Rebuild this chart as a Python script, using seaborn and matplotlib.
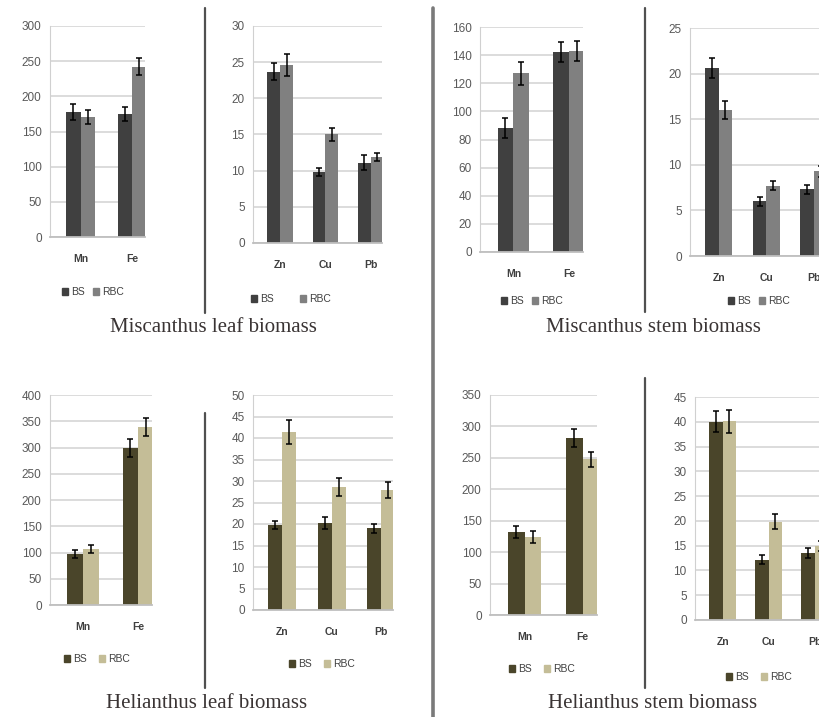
import numpy as np
import pandas as pd
import matplotlib
matplotlib.use("Agg")
import matplotlib.pyplot as plt
import seaborn as sns
from matplotlib.lines import Line2D
from matplotlib.patches import Patch

# ---- data (mg/kg) ----
macro = ["Mn", "Fe"]
micro = ["Zn", "Cu", "Pb"]
treatments = ["BS", "RBC"]

mis_leaf_macro_bs = [178, 175]
mis_leaf_macro_rbc = [171, 242]
mis_leaf_macro_bs_err = [11, 10]
mis_leaf_macro_rbc_err = [10, 12]

mis_leaf_micro_bs = [23.7, 9.8, 11.1]
mis_leaf_micro_rbc = [24.6, 15.0, 11.9]
mis_leaf_micro_bs_err = [1.2, 0.6, 1.0]
mis_leaf_micro_rbc_err = [1.5, 0.9, 0.6]

mis_stem_macro_bs = [88, 142]
mis_stem_macro_rbc = [127, 143]
mis_stem_macro_bs_err = [7, 7]
mis_stem_macro_rbc_err = [8, 7]

mis_stem_micro_bs = [20.6, 6.0, 7.3]
mis_stem_micro_rbc = [16.0, 7.7, 9.3]
mis_stem_micro_bs_err = [1.1, 0.5, 0.5]
mis_stem_micro_rbc_err = [1.0, 0.5, 0.6]

hel_leaf_macro_bs = [97, 299]
hel_leaf_macro_rbc = [107, 339]
hel_leaf_macro_bs_err = [8, 18]
hel_leaf_macro_rbc_err = [8, 18]

hel_leaf_micro_bs = [19.8, 20.2, 19.0]
hel_leaf_micro_rbc = [41.4, 28.6, 27.9]
hel_leaf_micro_bs_err = [1.0, 1.4, 1.1]
hel_leaf_micro_rbc_err = [2.8, 2.0, 1.9]

hel_stem_macro_bs = [132, 282]
hel_stem_macro_rbc = [124, 248]
hel_stem_macro_bs_err = [9, 14]
hel_stem_macro_rbc_err = [9, 12]

hel_stem_micro_bs = [40.0, 12.2, 13.6]
hel_stem_micro_rbc = [40.1, 19.8, 15.0]
hel_stem_micro_bs_err = [2.1, 0.9, 1.0]
hel_stem_micro_rbc_err = [2.3, 1.5, 1.0]

titles = ["Miscanthus leaf biomass", "Miscanthus stem biomass",
          "Helianthus leaf biomass", "Helianthus stem biomass"]

gray_colors = ["#404040", "#808080"]
olive_colors = ["#4a452a", "#c4bd97"]

# ---- layout ----
W, H = 819, 717
sns.set_style("white")
plt.rcParams["font.family"] = ["Liberation Sans", "DejaVu Sans"]

fig = plt.figure(figsize=(W / 100, H / 100), dpi=100)


def px_box(left, top, right, bottom):
    return [left / W, 1 - bottom / H, (right - left) / W, (bottom - top) / H]


def draw_panel(box, cats, bs, rbc, bs_err, rbc_err, ymax, ystep, colors,
               leg_xy, leg_gap):
    ax = fig.add_axes(px_box(*box))
    df = pd.DataFrame({
        "element": cats * 2,
        "treatment": ["BS"] * len(cats) + ["RBC"] * len(cats),
        "value": bs + rbc,
    })
    sns.barplot(data=df, x="element", y="value", hue="treatment",
                palette=colors, width=0.57, errorbar=None, ax=ax,
                legend=False, linewidth=0, saturation=1)
    for cont, vals, errs in zip(ax.containers, [bs, rbc], [bs_err, rbc_err]):
        for bar, v, e in zip(cont, vals, errs):
            ax.errorbar(bar.get_x() + bar.get_width() / 2, v, yerr=e,
                        color="black", lw=1.1, capsize=2.5, capthick=1.1)
    n = len(cats)
    ax.set_xticks(np.arange(n - 1) + 0.5, minor=True)
    ax.set_yticks(np.arange(0, ymax + 1, ystep))
    ax.set_xlim(-0.6, n - 0.75)
    ax.set_ylim(0, ymax)
    ax.set_xlabel("")
    ax.set_ylabel("")
    ax.yaxis.grid(True, color="#d9d9d9", lw=1.3)
    ax.set_axisbelow(True)
    for s in ["top", "right"]:
        ax.spines[s].set_visible(False)
    ax.spines["left"].set_color("#d0d0d0")
    ax.spines["bottom"].set_color("#bfbfbf")
    ax.spines["bottom"].set_linewidth(1.3)
    ax.tick_params(axis="y", length=0, labelsize=8.5, labelcolor="#595959", pad=6)
    ax.tick_params(axis="x", which="major", length=0, labelsize=7.5,
                   labelcolor="#404040", pad=12)
    ax.tick_params(axis="x", which="minor", length=3, color="#bfbfbf")
    for lab in ax.get_xticklabels():
        lab.set_fontweight("bold")
    handles = [Patch(color=c) for c in colors]
    fig.legend(handles=handles, labels=treatments, loc="center",
               bbox_to_anchor=(leg_xy[0] / W, 1 - leg_xy[1] / H), ncol=2,
               frameon=False, fontsize=7.5, handlelength=0.6, handleheight=0.6,
               handletextpad=0.3, columnspacing=leg_gap,
               labelcolor="#404040")
    return ax


draw_panel((50, 26, 145, 237), macro, mis_leaf_macro_bs, mis_leaf_macro_rbc,
           mis_leaf_macro_bs_err, mis_leaf_macro_rbc_err, 300, 50, gray_colors,
           (93, 292), 0.8)
draw_panel((253, 26, 382, 243), micro, mis_leaf_micro_bs, mis_leaf_micro_rbc,
           mis_leaf_micro_bs_err, mis_leaf_micro_rbc_err, 30, 5, gray_colors,
           (291, 299), 2.5)
draw_panel((480, 27, 583, 252), macro, mis_stem_macro_bs, mis_stem_macro_rbc,
           mis_stem_macro_bs_err, mis_stem_macro_rbc_err, 160, 20, gray_colors,
           (532, 301), 0.8)
draw_panel((690, 28, 826, 256), micro, mis_stem_micro_bs, mis_stem_micro_rbc,
           mis_stem_micro_bs_err, mis_stem_micro_rbc_err, 25, 5, gray_colors,
           (759, 301), 0.8)
draw_panel((50, 395, 152, 605), macro, hel_leaf_macro_bs, hel_leaf_macro_rbc,
           hel_leaf_macro_bs_err, hel_leaf_macro_rbc_err, 400, 50, olive_colors,
           (97, 659), 1.2)
draw_panel((253, 395, 393, 610), micro, hel_leaf_micro_bs, hel_leaf_micro_rbc,
           hel_leaf_micro_bs_err, hel_leaf_micro_rbc_err, 50, 5, olive_colors,
           (322, 664), 1.2)
draw_panel((490, 395, 597, 615), macro, hel_stem_macro_bs, hel_stem_macro_rbc,
           hel_stem_macro_bs_err, hel_stem_macro_rbc_err, 350, 50, olive_colors,
           (542, 669), 1.2)
draw_panel((695, 397, 826, 620), micro, hel_stem_micro_bs, hel_stem_micro_rbc,
           hel_stem_micro_bs_err, hel_stem_micro_rbc_err, 45, 5, olive_colors,
           (759, 677), 1.2)

# separators
def vline(x, y0, y1, lw, color):
    fig.add_artist(Line2D([x / W, x / W], [1 - y0 / H, 1 - y1 / H],
                          transform=fig.transFigure, lw=lw, color=color))

vline(205, 8, 313, 1.6, "#505050")
vline(645, 8, 312, 1.6, "#505050")
vline(205, 413, 688, 1.6, "#505050")
vline(645, 378, 688, 1.6, "#505050")
vline(433, 8, 717, 2.6, "#7a7a7a")

# section titles
for (cx, cy), t in zip([(213, 328), (653, 328), (207, 703), (653, 703)], titles):
    fig.text(cx / W, 1 - cy / H, t, ha="center", va="center",
             family=["Liberation Serif", "DejaVu Serif"], fontsize=15,
             color="#3a3434")

fig.savefig("out.png", dpi=100)
